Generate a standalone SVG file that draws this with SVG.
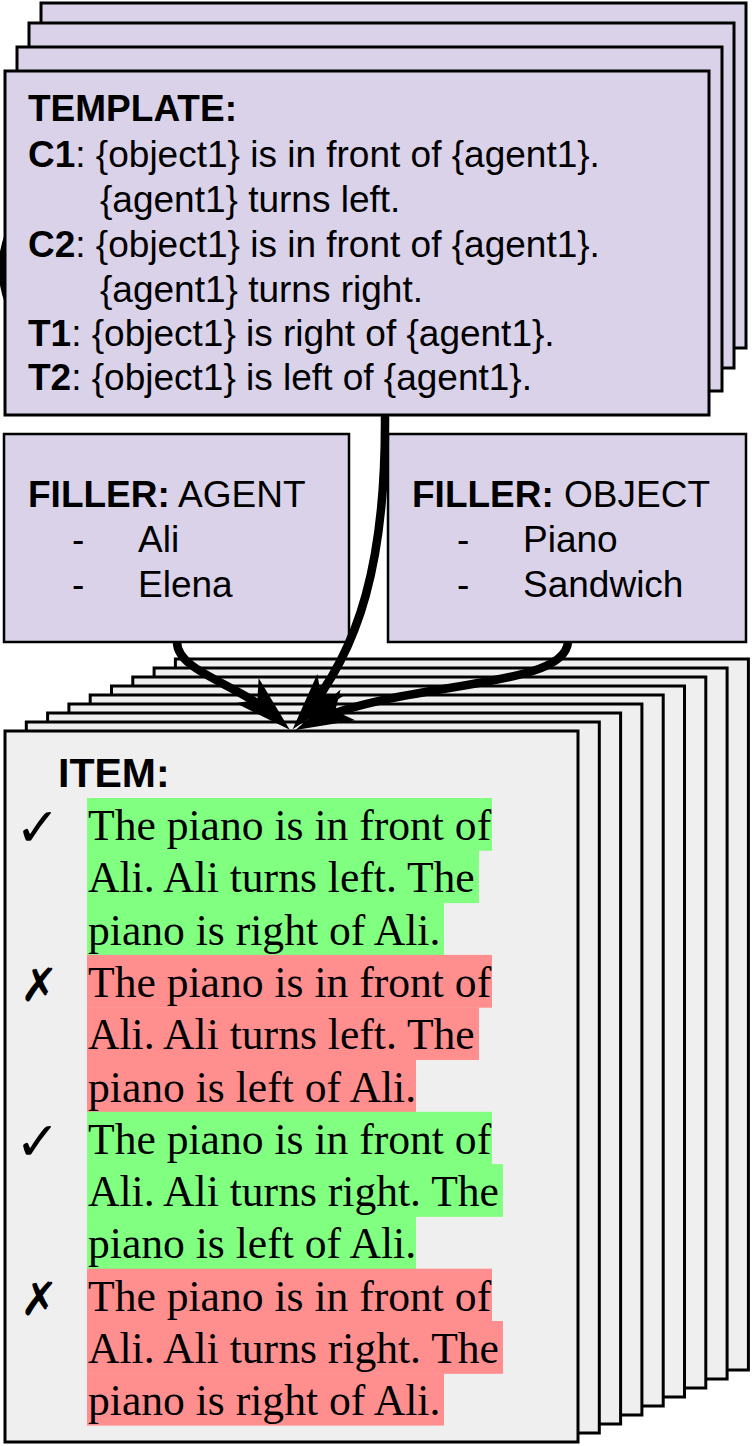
<svg xmlns="http://www.w3.org/2000/svg" width="754" height="1446" viewBox="0 0 754 1446">
<style>
.tpl{fill:#d9d2e9;stroke:#000;stroke-width:3}
.fil{fill:#d9d2e9;stroke:#000;stroke-width:2.5}
.itm{fill:#efefef;stroke:#000;stroke-width:3}
.sans{font-family:"Liberation Sans",Arial,sans-serif;font-size:37px;fill:#000}
.b{font-weight:bold}
.serif{font-family:"Liberation Serif","Times New Roman",serif;font-size:43.6px;fill:#000}
.mark{font-family:"DejaVu Sans",sans-serif;font-size:54px;font-weight:bold;fill:#000}
.x{font-size:46px}
.g{fill:#80ff80}
.r{fill:#ff8f8f}
.conn{fill:none;stroke:#000;stroke-width:8.5;stroke-linecap:butt}
</style>
<defs>
<marker id="ah" markerUnits="userSpaceOnUse" markerWidth="1" markerHeight="1" refX="0" refY="0" orient="auto" overflow="visible">
<path d="M16,0 L-42,-17 L-28,0 L-42,17 Z" fill="#000"/>
</marker>
</defs>

<g id="partial-arc">
<path d="M8,234 Q-5,268 8,303" fill="none" stroke="#000" stroke-width="6"/>
</g>

<g id="template">
<rect class="tpl" x="41" y="3" width="705" height="345"/>
<rect class="tpl" x="29" y="23" width="705" height="345"/>
<rect class="tpl" x="17" y="47" width="705" height="344"/>
<rect class="tpl" x="5" y="71" width="704" height="344"/>
<text class="sans b" x="28" y="121">TEMPLATE:</text>
<text class="sans" x="28" y="167"><tspan class="b">C1</tspan>: {object1} is in front of {agent1}.</text>
<text class="sans" x="100" y="212">{agent1} turns left.</text>
<text class="sans" x="28" y="257"><tspan class="b">C2</tspan>: {object1} is in front of {agent1}.</text>
<text class="sans" x="100" y="302">{agent1} turns right.</text>
<text class="sans" x="28" y="346"><tspan class="b">T1</tspan>: {object1} is right of {agent1}.</text>
<text class="sans" x="28" y="390"><tspan class="b">T2</tspan>: {object1} is left of {agent1}.</text>
</g>

<g id="filler-agent">
<rect class="fil" x="4" y="434" width="345" height="208"/>
<text class="sans" x="28" y="507"><tspan class="b">FILLER:</tspan> AGENT</text>
<text class="sans" x="72" y="552">-</text>
<text class="sans" x="138" y="552">Ali</text>
<text class="sans" x="72" y="597">-</text>
<text class="sans" x="138" y="597">Elena</text>
</g>

<g id="filler-object">
<rect class="fil" x="388" y="434" width="358" height="208"/>
<text class="sans" x="412" y="507"><tspan class="b">FILLER:</tspan> OBJECT</text>
<text class="sans" x="457" y="552">-</text>
<text class="sans" x="523" y="552">Piano</text>
<text class="sans" x="457" y="597">-</text>
<text class="sans" x="523" y="597">Sandwich</text>
</g>

<g id="item">
<rect class="itm" x="175.4" y="659" width="573" height="711"/>
<rect class="itm" x="154.1" y="668" width="573" height="711"/>
<rect class="itm" x="132.8" y="677" width="573" height="711"/>
<rect class="itm" x="111.5" y="686" width="573" height="711"/>
<rect class="itm" x="90.2" y="695" width="573" height="711"/>
<rect class="itm" x="68.9" y="704" width="573" height="711"/>
<rect class="itm" x="47.6" y="713" width="573" height="711"/>
<rect class="itm" x="26.3" y="722" width="573" height="711"/>
<rect class="itm" x="5" y="731" width="573" height="711"/>
<text class="sans b" x="58" y="787" style="font-size:41px">ITEM:</text>

<rect class="g" x="87" y="798" width="405" height="52.8"/>
<rect class="g" x="87" y="850.3" width="392" height="52.8"/>
<rect class="g" x="87" y="902.6" width="357" height="52.8"/>
<rect class="r" x="87" y="954.9" width="405" height="52.8"/>
<rect class="r" x="87" y="1007.2" width="392" height="52.8"/>
<rect class="r" x="87" y="1059.5" width="329" height="52.8"/>
<rect class="g" x="87" y="1111.8" width="405" height="52.8"/>
<rect class="g" x="87" y="1164.1" width="416" height="52.8"/>
<rect class="g" x="87" y="1216.4" width="329" height="52.8"/>
<rect class="r" x="87" y="1268.7" width="405" height="52.8"/>
<rect class="r" x="87" y="1321" width="416" height="52.8"/>
<rect class="r" x="87" y="1373.3" width="357" height="52.3"/>

<text class="serif" x="88" y="840">The piano is in front of</text>
<text class="serif" x="88" y="892.3">Ali. Ali turns left. The</text>
<text class="serif" x="88" y="944.6">piano is right of Ali.</text>
<text class="serif" x="88" y="996.9">The piano is in front of</text>
<text class="serif" x="88" y="1049.2">Ali. Ali turns left. The</text>
<text class="serif" x="88" y="1101.5">piano is left of Ali.</text>
<text class="serif" x="88" y="1153.8">The piano is in front of</text>
<text class="serif" x="88" y="1206.1">Ali. Ali turns right. The</text>
<text class="serif" x="88" y="1258.4">piano is left of Ali.</text>
<text class="serif" x="88" y="1310.7">The piano is in front of</text>
<text class="serif" x="88" y="1363">Ali. Ali turns right. The</text>
<text class="serif" x="88" y="1415.3">piano is right of Ali.</text>

<text class="mark" x="15" y="846">✓</text>
<text class="mark x" x="20" y="1001">✗</text>
<text class="mark" x="15" y="1160">✓</text>
<text class="mark x" x="20" y="1315">✗</text>
</g>

<g id="connectors">
<path class="conn" d="M385,415 C386,560 360,650 303,717" marker-end="url(#ah)"/>
<path class="conn" d="M177,642 C177,672 240,684 278,719" marker-end="url(#ah)"/>
<path class="conn" d="M568,642 C565,690 400,680 310,723" marker-end="url(#ah)"/>
</g>
</svg>
